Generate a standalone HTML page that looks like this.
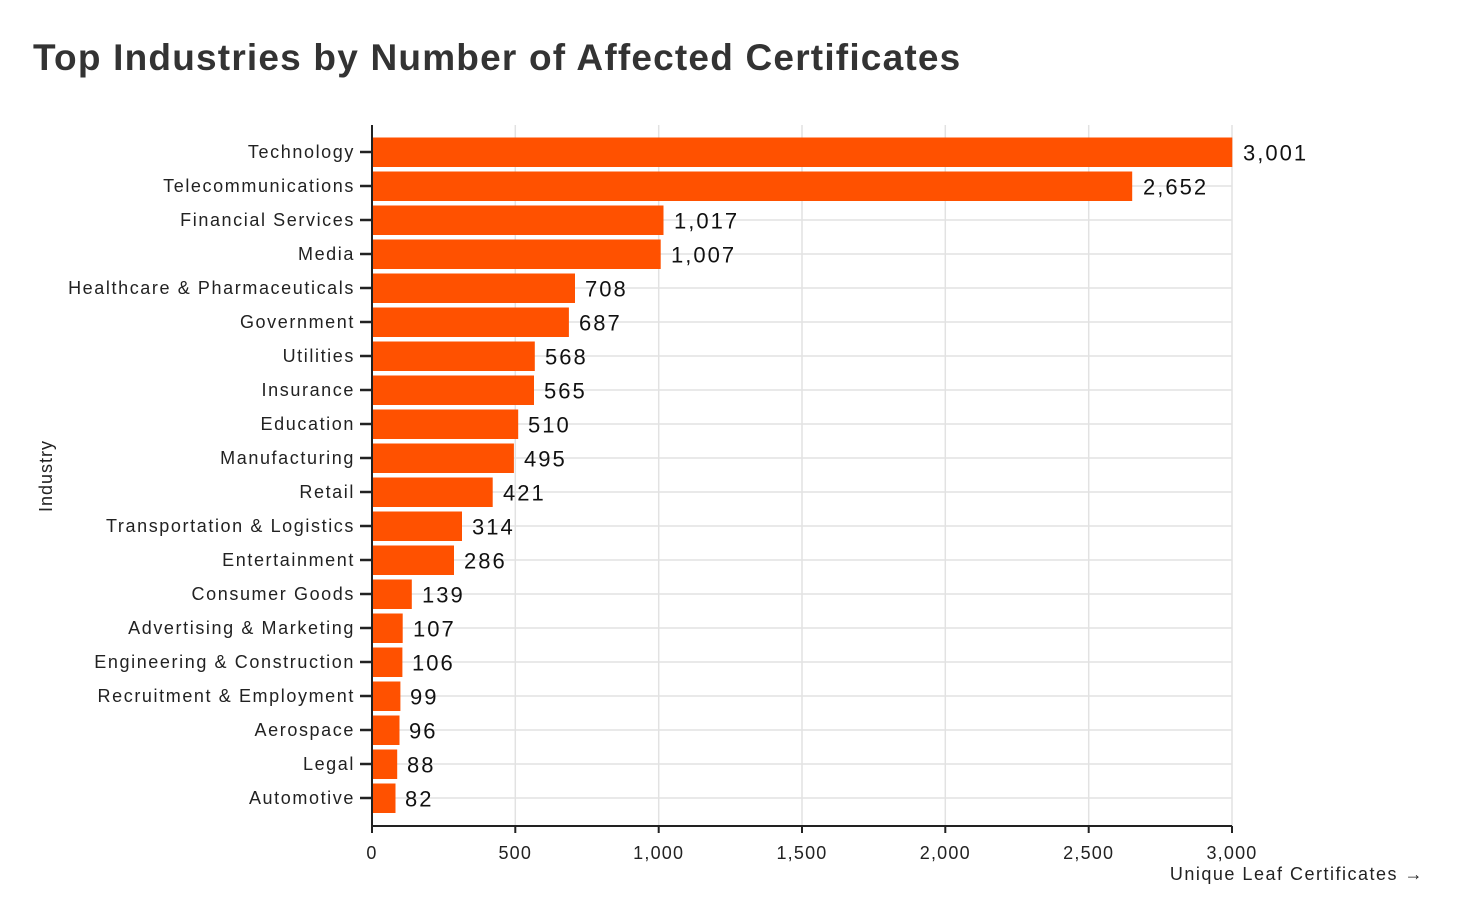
<!DOCTYPE html>
<html><head><meta charset="utf-8"><style>
body{margin:0;background:#fff;}
svg{display:block;font-family:"Liberation Sans",sans-serif;}
</style></head><body>
<svg width="1464" height="918" viewBox="0 0 1464 918">
<text x="33" y="70" font-size="37" font-weight="bold" fill="#333" letter-spacing="1.2">Top Industries by Number of Affected Certificates</text>
<g stroke="#e2e2e2" stroke-width="1.5">
<line x1="515.3" y1="125" x2="515.3" y2="826"/><line x1="658.7" y1="125" x2="658.7" y2="826"/><line x1="802" y1="125" x2="802" y2="826"/><line x1="945.3" y1="125" x2="945.3" y2="826"/><line x1="1088.7" y1="125" x2="1088.7" y2="826"/><line x1="1232" y1="125" x2="1232" y2="826"/>
<line x1="372" y1="152" x2="1232" y2="152"/><line x1="372" y1="186" x2="1232" y2="186"/><line x1="372" y1="220" x2="1232" y2="220"/><line x1="372" y1="254" x2="1232" y2="254"/><line x1="372" y1="288" x2="1232" y2="288"/><line x1="372" y1="322" x2="1232" y2="322"/><line x1="372" y1="356" x2="1232" y2="356"/><line x1="372" y1="390" x2="1232" y2="390"/><line x1="372" y1="424" x2="1232" y2="424"/><line x1="372" y1="458" x2="1232" y2="458"/><line x1="372" y1="492" x2="1232" y2="492"/><line x1="372" y1="526" x2="1232" y2="526"/><line x1="372" y1="560" x2="1232" y2="560"/><line x1="372" y1="594" x2="1232" y2="594"/><line x1="372" y1="628" x2="1232" y2="628"/><line x1="372" y1="662" x2="1232" y2="662"/><line x1="372" y1="696" x2="1232" y2="696"/><line x1="372" y1="730" x2="1232" y2="730"/><line x1="372" y1="764" x2="1232" y2="764"/><line x1="372" y1="798" x2="1232" y2="798"/>
</g>
<g fill="#ff5100">
<rect x="372" y="137.5" width="860.3" height="29.5"/><rect x="372" y="171.5" width="760.2" height="29.5"/><rect x="372" y="205.5" width="291.5" height="29.5"/><rect x="372" y="239.5" width="288.7" height="29.5"/><rect x="372" y="273.5" width="203" height="29.5"/><rect x="372" y="307.5" width="196.9" height="29.5"/><rect x="372" y="341.5" width="162.8" height="29.5"/><rect x="372" y="375.5" width="162" height="29.5"/><rect x="372" y="409.5" width="146.2" height="29.5"/><rect x="372" y="443.5" width="141.9" height="29.5"/><rect x="372" y="477.5" width="120.7" height="29.5"/><rect x="372" y="511.5" width="90" height="29.5"/><rect x="372" y="545.5" width="82" height="29.5"/><rect x="372" y="579.5" width="39.8" height="29.5"/><rect x="372" y="613.5" width="30.7" height="29.5"/><rect x="372" y="647.5" width="30.4" height="29.5"/><rect x="372" y="681.5" width="28.4" height="29.5"/><rect x="372" y="715.5" width="27.5" height="29.5"/><rect x="372" y="749.5" width="25.2" height="29.5"/><rect x="372" y="783.5" width="23.5" height="29.5"/>
</g>
<g font-size="22" fill="#111" dominant-baseline="central" letter-spacing="2">
<text x="1243" y="153">3,001</text><text x="1143" y="187">2,652</text><text x="674" y="221">1,017</text><text x="671" y="255">1,007</text><text x="585" y="289">708</text><text x="579" y="323">687</text><text x="545" y="357">568</text><text x="544" y="391">565</text><text x="528" y="425">510</text><text x="524" y="459">495</text><text x="503" y="493">421</text><text x="472" y="527">314</text><text x="464" y="561">286</text><text x="422" y="595">139</text><text x="413" y="629">107</text><text x="412" y="663">106</text><text x="410" y="697">99</text><text x="409" y="731">96</text><text x="407" y="765">88</text><text x="405" y="799">82</text>
</g>
<g font-size="18" fill="#222" text-anchor="end" dominant-baseline="central" letter-spacing="1.6">
<text x="355" y="152">Technology</text><text x="355" y="186">Telecommunications</text><text x="355" y="220">Financial Services</text><text x="355" y="254">Media</text><text x="355" y="288">Healthcare &amp; Pharmaceuticals</text><text x="355" y="322">Government</text><text x="355" y="356">Utilities</text><text x="355" y="390">Insurance</text><text x="355" y="424">Education</text><text x="355" y="458">Manufacturing</text><text x="355" y="492">Retail</text><text x="355" y="526">Transportation &amp; Logistics</text><text x="355" y="560">Entertainment</text><text x="355" y="594">Consumer Goods</text><text x="355" y="628">Advertising &amp; Marketing</text><text x="355" y="662">Engineering &amp; Construction</text><text x="355" y="696">Recruitment &amp; Employment</text><text x="355" y="730">Aerospace</text><text x="355" y="764">Legal</text><text x="355" y="798">Automotive</text>
</g>
<g stroke="#222" stroke-width="2">
<line x1="372" y1="125" x2="372" y2="833"/><line x1="371" y1="826" x2="1232" y2="826"/>
<line x1="515.3" y1="826" x2="515.3" y2="833"/><line x1="658.7" y1="826" x2="658.7" y2="833"/><line x1="802" y1="826" x2="802" y2="833"/><line x1="945.3" y1="826" x2="945.3" y2="833"/><line x1="1088.7" y1="826" x2="1088.7" y2="833"/><line x1="1232" y1="826" x2="1232" y2="833"/>
<g stroke-width="2.5">
<line x1="360" y1="152" x2="371" y2="152"/><line x1="360" y1="186" x2="371" y2="186"/><line x1="360" y1="220" x2="371" y2="220"/><line x1="360" y1="254" x2="371" y2="254"/><line x1="360" y1="288" x2="371" y2="288"/><line x1="360" y1="322" x2="371" y2="322"/><line x1="360" y1="356" x2="371" y2="356"/><line x1="360" y1="390" x2="371" y2="390"/><line x1="360" y1="424" x2="371" y2="424"/><line x1="360" y1="458" x2="371" y2="458"/><line x1="360" y1="492" x2="371" y2="492"/><line x1="360" y1="526" x2="371" y2="526"/><line x1="360" y1="560" x2="371" y2="560"/><line x1="360" y1="594" x2="371" y2="594"/><line x1="360" y1="628" x2="371" y2="628"/><line x1="360" y1="662" x2="371" y2="662"/><line x1="360" y1="696" x2="371" y2="696"/><line x1="360" y1="730" x2="371" y2="730"/><line x1="360" y1="764" x2="371" y2="764"/><line x1="360" y1="798" x2="371" y2="798"/>
</g></g>
<g font-size="18" fill="#222" text-anchor="middle" letter-spacing="1.2">
<text x="372" y="859">0</text><text x="515.3" y="859">500</text><text x="658.7" y="859">1,000</text><text x="802" y="859">1,500</text><text x="945.3" y="859">2,000</text><text x="1088.7" y="859">2,500</text><text x="1232" y="859">3,000</text>
</g>
<text x="1424" y="880" font-size="18" fill="#222" text-anchor="end" letter-spacing="1.5">Unique Leaf Certificates →</text>
<text transform="translate(52,476) rotate(-90)" font-size="18" fill="#222" text-anchor="middle" letter-spacing="1">Industry</text>
</svg>
</body></html>
